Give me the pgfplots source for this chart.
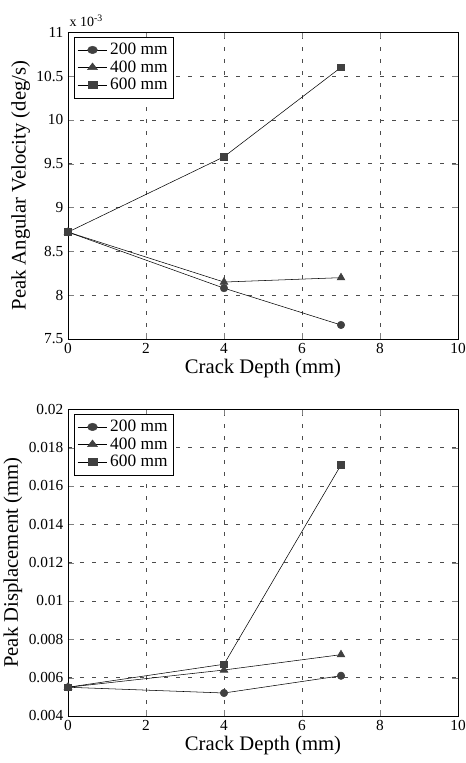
\documentclass[border=0pt]{standalone}
\usepackage{fontspec}
\setmainfont{Liberation Serif}
\usepackage{pgfplots}
\pgfplotsset{compat=1.18}
\begin{document}
\begin{tikzpicture}
\pgfplotsset{
  common/.style={
    scale only axis, width=292.5pt, height=230pt,
    xmin=0, xmax=10, xtick={0,2,...,10},
    grid=major, grid style={dash pattern=on 3pt off 6pt, black!70},
    tick align=inside, axis line style={black},
    tick label style={font=\fontsize{11.5}{12}\selectfont},
    label style={font=\fontsize{15.5}{17}\selectfont},
    /pgf/number format/assume math mode=true,
    scaled y ticks=false,
    xlabel={Crack Depth (mm)},
    xlabel style={yshift=3pt},
    ylabel style={yshift=-2pt},
    legend pos=north west, legend cell align=left,
    legend style={font=\fontsize{13}{14}\selectfont, draw=black, inner sep=2.5pt, row sep=-1pt,
      at={(0.015,0.985)}},
    legend image post style={xscale=1.3},
    every axis plot/.append style={black, thin, mark size=2.8pt},
  },
  s200/.style={mark=*, mark options={fill=black!75, draw=black!75}},
  s400/.style={mark=triangle*, mark options={fill=black!75, draw=black!75, scale=1.2}},
  s600/.style={mark=square*, mark options={fill=black!75, draw=black!75, scale=0.9}},
}
% top panel
\begin{axis}[common, name=top, at={(0pt,282.75pt)}, anchor=south west,
  ymin=7.5, ymax=11, ytick={7.5,8,...,11},
  yticklabel style={/pgf/number format/fixed, /pgf/number format/precision=1},
  ylabel={Peak Angular Velocity (deg/s)}]
\addplot[s200] coordinates {(0,8.72) (4,8.08) (7,7.66)};
\addplot[s400] coordinates {(0,8.72) (4,8.15) (7,8.20)};
\addplot[s600] coordinates {(0,8.72) (4,9.58) (7,10.60)};
\legend{200 mm, 400 mm, 600 mm}
\end{axis}
\node[anchor=south west, font=\fontsize{10.5}{12}\selectfont, inner sep=1pt] at ([yshift=3pt]top.north west) {x 10\textsuperscript{-3}};
% bottom panel
\begin{axis}[common, at={(0pt,0pt)}, anchor=south west,
  ymin=0.004, ymax=0.02, ytick={0.004,0.006,...,0.02},
  yticklabel style={/pgf/number format/fixed, /pgf/number format/precision=3},
  ylabel={Peak Displacement (mm)}]
\addplot[s200] coordinates {(0,0.0055) (4,0.0052) (7,0.0061)};
\addplot[s400] coordinates {(0,0.0055) (4,0.0064) (7,0.0072)};
\addplot[s600] coordinates {(0,0.0055) (4,0.0067) (7,0.0171)};
\legend{200 mm, 400 mm, 600 mm}
\end{axis}
\pgfresetboundingbox
\path[use as bounding box] (-51pt,-35.25pt) rectangle (298.5pt,537pt);
\end{tikzpicture}
\end{document}
